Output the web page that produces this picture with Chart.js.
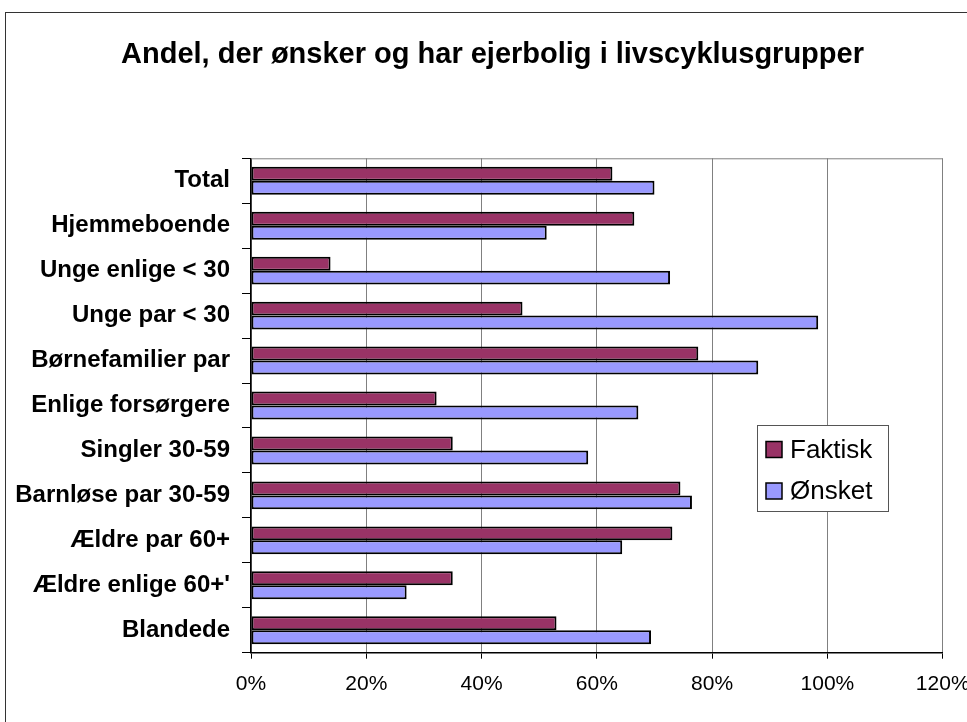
<!DOCTYPE html>
<html>
<head>
<meta charset="utf-8">
<title>Andel, der ønsker og har ejerbolig i livscyklusgrupper</title>
<script src="https://cdn.jsdelivr.net/npm/chart.js@4/dist/chart.umd.min.js"></script>
<style>
  html, body { margin: 0; padding: 0; background: #fff; }
  #ramme { position: absolute; left: 5px; top: 12px; width: 1100px; height: 900px; border: 1px solid #333; }
  #graf { position: absolute; left: 0; top: 0; }
</style>
</head>
<body>
<div id="ramme"></div>
<canvas id="graf" width="967" height="722"></canvas>
<script>
const titel = "Andel, der ønsker og har ejerbolig i livscyklusgrupper";
const kategorier = [
  "Total", "Hjemmeboende", "Unge enlige < 30", "Unge par < 30", "Børnefamilier par",
  "Enlige forsørgere", "Singler 30-59", "Barnløse par 30-59", "Ældre par 60+",
  "Ældre enlige 60+'", "Blandede"
];
const faktisk = [62.7, 66.5, 13.8, 47.1, 77.6, 32.2, 35.0, 74.5, 73.1, 35.0, 53.0];
const onsket = [70.0, 51.3, 72.7, 98.4, 88.0, 67.2, 58.5, 76.5, 64.4, 27.0, 69.4];
const xTicks = [0, 20, 40, 60, 80, 100, 120];

const font = "Arial, 'Liberation Sans', sans-serif";

// titel, ramme om plotområdet og forklaring
const ekstra = {
  id: "ekstra",
  beforeDatasetsDraw(chart) {
    const { ctx, chartArea: a } = chart;
    ctx.save();
    ctx.strokeStyle = "#808080";
    ctx.lineWidth = 1;
    ctx.beginPath();
    ctx.moveTo(a.left, a.top + 0.5);
    ctx.lineTo(a.right, a.top + 0.5);
    ctx.stroke();
    ctx.restore();
  },
  afterDraw(chart) {
    const ctx = chart.ctx;
    ctx.save();
    ctx.fillStyle = "#000";
    ctx.font = "bold 29px " + font;
    ctx.textAlign = "center";
    ctx.textBaseline = "alphabetic";
    ctx.fillText(titel, 492.5, 62.7);

    const x = 757.5, y = 425.5, w = 131, h = 86;
    ctx.textAlign = "left";
    ctx.fillStyle = "#fff";
    ctx.fillRect(x, y, w, h);
    ctx.strokeStyle = "#555";
    ctx.lineWidth = 1;
    ctx.strokeRect(x, y, w, h);
    ctx.font = "26px " + font;
    ctx.textBaseline = "middle";
    chart.data.datasets.forEach((ds, i) => {
      const cy = 449.5 + i * 41.5;
      ctx.fillStyle = ds.backgroundColor;
      ctx.fillRect(766, cy - 8, 16, 16);
      ctx.strokeStyle = "#000";
      ctx.lineWidth = 1.5;
      ctx.strokeRect(766, cy - 8, 16, 16);
      ctx.fillStyle = "#000";
      ctx.fillText(ds.label, 790, cy + 1);
    });
    ctx.restore();
  }
};

new Chart(document.getElementById("graf"), {
  type: "bar",
  data: {
    labels: kategorier,
    datasets: [
      {
        label: "Faktisk",
        data: faktisk,
        backgroundColor: "#993366",
        borderColor: "#000",
        borderWidth: 2,
        borderSkipped: false,
      },
      {
        label: "Ønsket",
        data: onsket,
        backgroundColor: "#9999ff",
        borderColor: "#000",
        borderWidth: 2,
        borderSkipped: false,
      },
    ],
  },
  options: {
    indexAxis: "y",
    responsive: false,
    animation: false,
    events: [],
    layout: { padding: { left: 0, right: 24.3, top: 158.3, bottom: 0 } },
    datasets: { bar: { categoryPercentage: 0.62, barPercentage: 1 } },
    plugins: {
      legend: { display: false },
      tooltip: { enabled: false },
      title: { display: false },
    },
    scales: {
      x: {
        min: 0,
        max: 120,
        afterBuildTicks(scale) {
          scale.ticks = xTicks.map(v => ({ value: v }));
        },
        afterFit(scale) {
          scale.height = 69.3;
          scale.paddingLeft = 0;
          scale.paddingRight = 0;
        },
        ticks: {
          color: "#000",
          font: { family: font, size: 21 },
          padding: 12.5,
          maxRotation: 0,
          callback: v => v + "%",
        },
        grid: { color: "#808080", tickColor: "#000", tickLength: 6, lineWidth: 1 },
        border: { color: "#000", width: 1.5 },
      },
      y: {
        afterFit(scale) {
          scale.width = 251;
        },
        ticks: {
          color: "#000",
          font: { family: font, size: 24, weight: "bold" },
          padding: 12,
          autoSkip: false,
        },
        grid: { drawOnChartArea: false, tickColor: "#000", tickLength: 9, offset: true },
        border: { color: "#000", width: 1.5 },
      },
    },
  },
  plugins: [ekstra],
});
</script>
</body>
</html>
